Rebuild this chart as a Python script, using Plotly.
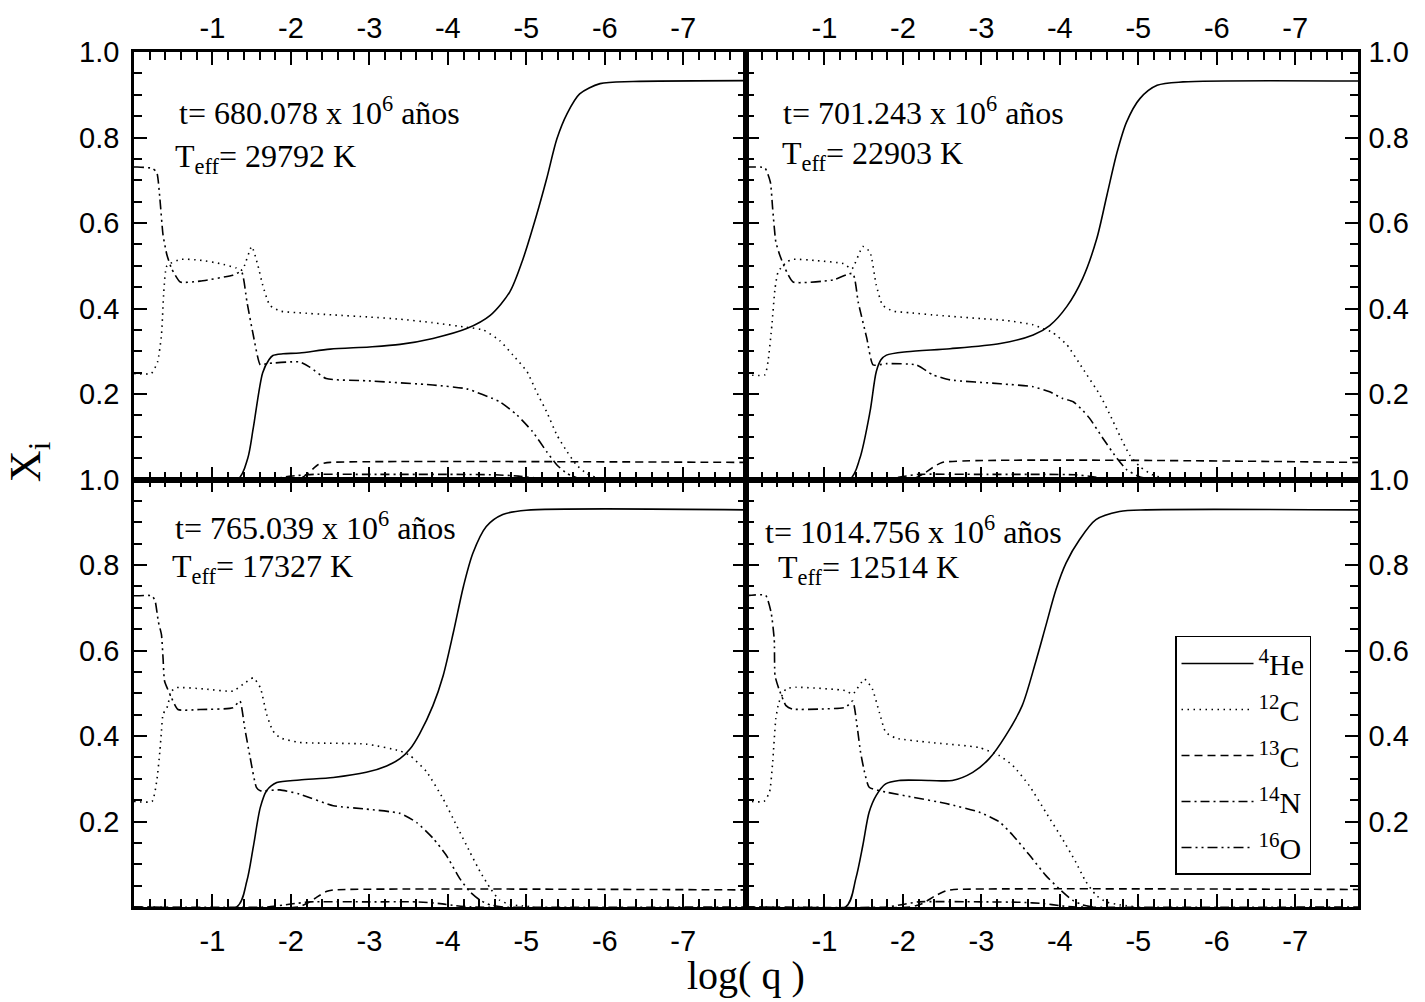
import plotly.graph_objects as go
from plotly.subplots import make_subplots

# Abundance profiles X_i versus log(q) for four cooling stages.
# Each profile: log(q) samples (..._Q) and mass fractions (..._X).

# ---------- t = 680.078 Myr, Teff = 29792 K ----------
HE_A_Q = [0, -1.32, -1.45, -1.52, -1.64, -1.72, -1.77, -1.9, -2.11, -2.5, -3.0, -3.39, -3.81,
          -4.24, -4.54, -4.79, -4.96, -5.13, -5.26, -5.39, -5.52, -5.68, -5.94, -6.36, -7.8]
HE_A_X = [0, 0, 0.05, 0.12, 0.25, 0.28, 0.29, 0.294, 0.296, 0.305, 0.31, 0.316, 0.33,
          0.353, 0.384, 0.439, 0.517, 0.618, 0.704, 0.797, 0.856, 0.902, 0.926, 0.931, 0.933]
C12_A_Q = [0, -0.22, -0.3, -0.35, -0.38, -0.42, -0.6, -0.84, -1.1, -1.3, -1.38, -1.5, -1.58,
           -1.64, -1.73, -1.86, -2.1, -2.54, -3.0, -3.39, -3.8, -4.24, -4.45, -4.66, -4.83,
           -5.01, -5.13, -5.26, -5.39, -5.52, -5.64, -5.77, -5.94, -6.2]
C12_A_X = [0.248, 0.248, 0.275, 0.338, 0.44, 0.5, 0.515, 0.513, 0.505, 0.495, 0.49, 0.545, 0.5,
           0.455, 0.408, 0.394, 0.39, 0.385, 0.38, 0.375, 0.367, 0.356, 0.35, 0.325, 0.291,
           0.252, 0.205, 0.158, 0.104, 0.065, 0.034, 0.014, 0.002, 0]
C13_A_Q = [0, -2.1, -2.22, -2.35, -2.5, -7.8]
C13_A_X = [0, 0, 0.015, 0.035, 0.04, 0.04]
N14_A_Q = [0, -1.7, -2.0, -2.3, -3.0, -4.0, -4.6, -4.9, -5.1, -5.3, -7.8]
N14_A_X = [0, 0, 0.008, 0.012, 0.012, 0.012, 0.011, 0.008, 0.004, 0, 0]
O16_A_Q = [0, -0.04, -0.23, -0.29, -0.33, -0.37, -0.42, -0.48, -0.59, -0.84, -1.26, -1.37,
           -1.44, -1.52, -1.61, -1.69, -2.11, -2.24, -2.45, -2.96, -3.81, -4.24, -4.66,
           -4.88, -5.08, -5.26, -5.39, -5.52, -5.68, -6.0]
O16_A_X = [0.731, 0.731, 0.728, 0.719, 0.657, 0.572, 0.525, 0.493, 0.462, 0.464, 0.478, 0.486,
           0.415, 0.338, 0.268, 0.271, 0.275, 0.263, 0.236, 0.231, 0.221, 0.212, 0.182,
           0.151, 0.112, 0.065, 0.034, 0.014, 0.002, 0]

# ---------- t = 701.243 Myr, Teff = 22903 K ----------
HE_B_Q = [0, -1.32, -1.45, -1.58, -1.66, -1.72, -1.79, -2.05, -2.6, -3.24, -3.66, -3.87, -4.09,
          -4.29, -4.47, -4.60, -4.73, -4.85, -5.02, -5.24, -5.57, -7.8]
HE_B_X = [0, 0, 0.049, 0.158, 0.252, 0.28, 0.291, 0.299, 0.306, 0.318, 0.338, 0.36, 0.405,
          0.47, 0.563, 0.665, 0.766, 0.836, 0.891, 0.922, 0.93, 0.932]
C12_B_Q = [0, -0.24, -0.28, -0.33, -0.37, -0.41, -0.52, -0.6, -0.9, -1.24, -1.35, -1.49, -1.58,
           -1.66, -1.74, -1.87, -2.1, -2.38, -3.02, -3.32, -3.66, -3.78, -3.9, -4.09, -4.29,
           -4.51, -4.64, -4.76, -4.89, -5.02, -5.18, -5.36, -5.6]
C12_B_X = [0.245, 0.245, 0.275, 0.361, 0.447, 0.486, 0.509, 0.515, 0.512, 0.505, 0.493, 0.545,
           0.532, 0.455, 0.408, 0.394, 0.39, 0.385, 0.376, 0.372, 0.362, 0.353, 0.345, 0.315,
           0.26, 0.198, 0.151, 0.104, 0.057, 0.03, 0.011, 0.002, 0]
C13_B_Q = [0, -2.1, -2.25, -2.38, -2.5, -7.8]
C13_B_X = [0, 0, 0.012, 0.028, 0.04, 0.04]
N14_B_Q = [0, -1.75, -2.0, -2.2, -3.0, -3.8, -4.2, -4.4, -4.55, -4.7, -7.8]
N14_B_X = [0, 0, 0.007, 0.012, 0.012, 0.012, 0.011, 0.007, 0.003, 0, 0]
O16_B_Q = [0, -0.05, -0.24, -0.31, -0.34, -0.38, -0.43, -0.50, -0.60, -1.11, -1.36, -1.43,
           -1.54, -1.62, -1.79, -2.17, -2.38, -2.60, -3.24, -3.66, -3.87, -4.03, -4.17,
           -4.30, -4.38, -4.55, -4.73, -4.85, -5.02, -5.2]
O16_B_X = [0.731, 0.731, 0.729, 0.696, 0.633, 0.556, 0.525, 0.493, 0.462, 0.467, 0.482, 0.415,
           0.33, 0.268, 0.271, 0.268, 0.245, 0.233, 0.224, 0.217, 0.205, 0.19, 0.182,
           0.16, 0.143, 0.096, 0.049, 0.023, 0.006, 0]

# ---------- t = 765.039 Myr, Teff = 17327 K ----------
HE_C_Q = [0, -1.31, -1.44, -1.52, -1.61, -1.69, -1.82, -2.11, -2.54, -2.96, -3.22, -3.39, -3.52,
          -3.64, -3.81, -3.94, -4.07, -4.20, -4.32, -4.49, -4.70, -5.00, -7.8]
HE_C_X = [0, 0, 0.062, 0.14, 0.233, 0.272, 0.291, 0.297, 0.303, 0.315, 0.33, 0.347, 0.37,
          0.405, 0.471, 0.541, 0.642, 0.751, 0.828, 0.89, 0.918, 0.928, 0.929]
C12_C_Q = [0, -0.23, -0.29, -0.33, -0.35, -0.37, -0.42, -0.48, -0.54, -0.9, -1.26, -1.39, -1.52,
           -1.61, -1.69, -1.77, -1.86, -2.11, -2.96, -3.39, -3.52, -3.73, -3.94, -4.11, -4.28,
           -4.41, -4.54, -4.66, -4.79, -4.92, -5.1]
C12_C_X = [0.247, 0.247, 0.295, 0.365, 0.412, 0.451, 0.466, 0.505, 0.513, 0.51, 0.505, 0.521,
           0.536, 0.513, 0.451, 0.412, 0.396, 0.385, 0.381, 0.365, 0.354, 0.316, 0.253, 0.191,
           0.129, 0.083, 0.044, 0.016, 0.006, 0.003, 0]
C13_C_Q = [0, -2.1, -2.22, -2.33, -2.45, -2.55, -7.8]
C13_C_X = [0, 0, 0.01, 0.023, 0.036, 0.04, 0.04]
N14_C_Q = [0, -1.7, -2.0, -2.25, -3.0, -3.6, -3.9, -4.1, -4.3, -7.8]
N14_C_X = [0, 0, 0.007, 0.012, 0.012, 0.012, 0.008, 0.003, 0, 0]
O16_C_Q = [0, -0.04, -0.23, -0.27, -0.31, -0.35, -0.37, -0.39, -0.46, -0.56, -0.84, -1.26,
           -1.35, -1.41, -1.48, -1.56, -1.61, -1.86, -2.11, -2.54, -2.96, -3.39, -3.60, -3.81,
           -3.98, -4.15, -4.28, -4.41, -4.54, -4.7]
O16_C_X = [0.728, 0.728, 0.728, 0.715, 0.668, 0.637, 0.583, 0.528, 0.497, 0.462, 0.462, 0.466,
           0.482, 0.42, 0.35, 0.28, 0.272, 0.274, 0.264, 0.237, 0.229, 0.219, 0.198, 0.161,
           0.121, 0.067, 0.036, 0.016, 0.005, 0]

# ---------- t = 1014.756 Myr, Teff = 12514 K ----------
HE_D_Q = [0, -1.27, -1.40, -1.49, -1.57, -1.66, -1.78, -1.95, -2.34, -2.63, -2.89, -3.10, -3.31,
          -3.52, -3.69, -3.82, -3.95, -4.08, -4.25, -4.46, -4.76, -5.10, -7.8]
HE_D_X = [0, 0, 0.067, 0.145, 0.222, 0.261, 0.288, 0.296, 0.296, 0.296, 0.315, 0.347, 0.401,
          0.471, 0.572, 0.657, 0.742, 0.805, 0.859, 0.906, 0.925, 0.929, 0.929]
C12_D_Q = [0, -0.04, -0.23, -0.30, -0.34, -0.38, -0.42, -0.51, -0.64, -1.27, -1.36, -1.51,
           -1.61, -1.70, -1.78, -1.91, -2.34, -2.97, -3.23, -3.40, -3.61, -3.82, -4.03, -4.20,
           -4.33, -4.46, -4.59, -4.76, -5.0]
C12_D_X = [0.247, 0.247, 0.247, 0.269, 0.339, 0.44, 0.479, 0.51, 0.514, 0.506, 0.498, 0.533,
           0.51, 0.455, 0.409, 0.395, 0.385, 0.373, 0.354, 0.331, 0.284, 0.222, 0.16, 0.106,
           0.06, 0.028, 0.012, 0.005, 0]
C13_D_Q = [0, -2.1, -2.25, -2.4, -2.55, -2.65, -7.8]
C13_D_X = [0, 0, 0.008, 0.025, 0.038, 0.041, 0.041]
N14_D_Q = [0, -1.8, -2.0, -2.2, -3.0, -3.5, -3.8, -4.0, -4.2, -7.8]
N14_D_X = [0, 0, 0.006, 0.012, 0.012, 0.011, 0.008, 0.003, 0, 0]
O16_D_Q = [0, -0.04, -0.25, -0.32, -0.36, -0.37, -0.42, -0.51, -0.59, -0.93, -1.27, -1.36,
           -1.42, -1.46, -1.51, -1.57, -1.78, -2.12, -2.55, -2.97, -3.23, -3.40, -3.61, -3.82,
           -3.99, -4.16, -4.29, -4.42]
O16_D_X = [0.729, 0.729, 0.729, 0.689, 0.626, 0.541, 0.51, 0.471, 0.463, 0.463, 0.467, 0.482,
           0.417, 0.362, 0.316, 0.28, 0.269, 0.257, 0.242, 0.222, 0.199, 0.168, 0.122, 0.074,
           0.043, 0.016, 0.005, 0]

AGES = ["680.078", "701.243", "765.039", "1014.756"]
TEFFS = ["29792", "22903", "17327", "12514"]

SPECIES = ["<sup>4</sup>He", "<sup>12</sup>C", "<sup>13</sup>C", "<sup>14</sup>N", "<sup>16</sup>O"]
DASHES = ["solid", "1.5px,4.5px", "8px,5px", "9px,4px,2px,4px", "10px,4px,2px,4px,2px,4px"]
SMOOTH = [0.8, 0.5, 0.5, 0.5, 0.5]

PANELS = [
    (1, 1, [(HE_A_Q, HE_A_X), (C12_A_Q, C12_A_X), (C13_A_Q, C13_A_X), (N14_A_Q, N14_A_X), (O16_A_Q, O16_A_X)]),
    (1, 2, [(HE_B_Q, HE_B_X), (C12_B_Q, C12_B_X), (C13_B_Q, C13_B_X), (N14_B_Q, N14_B_X), (O16_B_Q, O16_B_X)]),
    (2, 1, [(HE_C_Q, HE_C_X), (C12_C_Q, C12_C_X), (C13_C_Q, C13_C_X), (N14_C_Q, N14_C_X), (O16_C_Q, O16_C_X)]),
    (2, 2, [(HE_D_Q, HE_D_X), (C12_D_Q, C12_D_X), (C13_D_Q, C13_D_X), (N14_D_Q, N14_D_X), (O16_D_Q, O16_D_X)]),
]

SERIF = "Liberation Serif, Times New Roman, serif"
SANS = "Liberation Sans, Arial, Helvetica, sans-serif"

fig = make_subplots(rows=2, cols=2, horizontal_spacing=0, vertical_spacing=0)

for k, (r, c, profiles) in enumerate(PANELS):
    for s, (q, x) in enumerate(profiles):
        fig.add_trace(go.Scatter(
            x=q, y=x, mode="lines", name=SPECIES[s],
            line=dict(color="black", width=1.6, dash=DASHES[s], shape="spline", smoothing=SMOOTH[s]),
            showlegend=(k == 3), legendrank=s, legendgroup=f"g{s}",
        ), row=r, col=c)

XTICKS = [-1, -2, -3, -4, -5, -6, -7]
YTICKS = [0.2, 0.4, 0.6, 0.8, 1.0]
YTEXT = ["0.2", "0.4", "0.6", "0.8", "1.0"]

for r in (1, 2):
    for c in (1, 2):
        fig.update_xaxes(
            range=[0, -7.8], tickvals=XTICKS, ticktext=[str(v) for v in XTICKS],
            side="top" if r == 1 else "bottom",
            ticks="inside", ticklen=13, tickwidth=2, tickcolor="black",
            minor=dict(dtick=0.2, tick0=0, ticks="inside", ticklen=8, tickwidth=2, tickcolor="black"),
            showline=True, linewidth=2.5, linecolor="black", mirror="allticks",
            showgrid=False, zeroline=False,
            ticklabelstandoff=0 if r == 1 else 6,
            tickfont=dict(family=SANS, size=29, color="black"),
            row=r, col=c)
        fig.update_yaxes(
            range=[0, 1], tickvals=YTICKS, ticktext=YTEXT,
            side="left" if c == 1 else "right",
            ticks="inside", ticklen=13, tickwidth=2, tickcolor="black",
            minor=dict(dtick=0.05, tick0=0, ticks="inside", ticklen=8, tickwidth=2, tickcolor="black"),
            showline=True, linewidth=2.5, linecolor="black", mirror="allticks",
            showgrid=False, zeroline=False,
            ticklabelstandoff=6 if c == 1 else 2,
            tickfont=dict(family=SANS, size=29, color="black"),
            row=r, col=c)

# panel captions (age and effective temperature)
CAPTION_POS = [
    ("x domain", "y domain", 0.070, 0.862, 0.064, 0.750),
    ("x2 domain", "y2 domain", 0.058, 0.862, 0.056, 0.758),
    ("x3 domain", "y3 domain", 0.064, 0.892, 0.059, 0.792),
    ("x4 domain", "y4 domain", 0.027, 0.883, 0.049, 0.790),
]
for k, (xr, yr, tx, ty, ex, ey) in enumerate(CAPTION_POS):
    fig.add_annotation(xref=xr, yref=yr, x=tx, y=ty, xanchor="left", yanchor="middle",
                       text=f"t= {AGES[k]} x 10<sup>6</sup> años", showarrow=False,
                       font=dict(family=SERIF, size=32, color="black"))
    fig.add_annotation(xref=xr, yref=yr, x=ex, y=ey, xanchor="left", yanchor="middle",
                       text=f"T<sub>eff</sub>= {TEFFS[k]} K", showarrow=False,
                       font=dict(family=SERIF, size=32, color="black"))

# axis titles
fig.add_annotation(xref="paper", yref="paper", x=-0.086, y=0.52, xanchor="center", textangle=-90,
                   text="X<sub>i</sub>", showarrow=False,
                   font=dict(family=SERIF, size=44, color="black"))
fig.add_annotation(xref="paper", yref="paper", x=0.5, y=-0.08, yanchor="middle",
                   text="log( q )", showarrow=False,
                   font=dict(family=SERIF, size=40, color="black"))

fig.update_layout(
    width=1425, height=1002,
    margin=dict(l=134, r=67, t=50, b=95),
    paper_bgcolor="white", plot_bgcolor="white",
    legend=dict(x=0.8505, y=0.317, xanchor="left", yanchor="top",
                bgcolor="white", bordercolor="black", borderwidth=1.5,
                font=dict(family=SERIF, size=30, color="black"),
                traceorder="grouped", tracegroupgap=4, itemwidth=72),
)

fig.write_html("out.html")
